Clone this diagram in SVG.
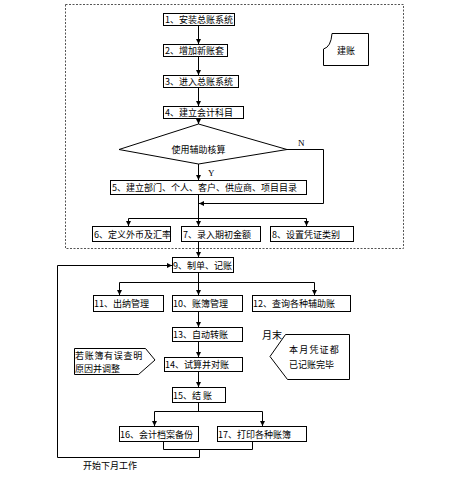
<svg xmlns="http://www.w3.org/2000/svg" width="457" height="483" viewBox="0 0 457 483">
<defs>
<marker id="ah" viewBox="0 0 6 6" refX="6" refY="3" markerWidth="5" markerHeight="5" orient="auto" markerUnits="userSpaceOnUse">
<path d="M0,0 L6,3 L0,6 Z" fill="#000"/>
</marker>
<style>
.b{fill:#fff;stroke:#000;stroke-width:1}
.t{font-family:"Noto Sans CJK SC","Liberation Sans",sans-serif;font-size:9px;fill:#000}
.c{fill:none;stroke:#000;stroke-width:1}
.a{fill:none;stroke:#000;stroke-width:1;marker-end:url(#ah)}
</style>
</defs>
<rect width="457" height="483" fill="#fff"/>
<rect x="65.5" y="4.5" width="338" height="244" fill="none" stroke="#555" stroke-width="1" stroke-dasharray="2,1.5"/>
<g id="connectors">
<line class="a" x1="198.5" y1="25" x2="198.5" y2="44"/>
<line class="a" x1="198.5" y1="57" x2="198.5" y2="75"/>
<line class="a" x1="198.5" y1="87" x2="198.5" y2="106"/>
<line class="a" x1="198.5" y1="118" x2="198.5" y2="124"/>
<line class="a" x1="198.5" y1="164" x2="198.5" y2="180"/>
<polyline class="a" points="287,149.5 323.5,149.5 323.5,203.5 199,203.5"/>
<line class="c" x1="198.5" y1="194" x2="198.5" y2="218.5"/>
<line class="c" x1="128.5" y1="218.5" x2="306.5" y2="218.5"/>
<line class="a" x1="128.5" y1="218.5" x2="128.5" y2="226"/>
<line class="a" x1="198.5" y1="218.5" x2="198.5" y2="226"/>
<line class="a" x1="306.5" y1="218.5" x2="306.5" y2="226"/>
<line class="a" x1="198.5" y1="241" x2="198.5" y2="257"/>
<line class="c" x1="198.5" y1="272" x2="198.5" y2="282.5"/>
<line class="c" x1="119.5" y1="282.5" x2="314.5" y2="282.5"/>
<line class="a" x1="119.5" y1="282.5" x2="119.5" y2="295"/>
<line class="a" x1="198.5" y1="282.5" x2="198.5" y2="295"/>
<line class="a" x1="314.5" y1="282.5" x2="314.5" y2="295"/>
<line class="a" x1="198.5" y1="311" x2="198.5" y2="327"/>
<line class="a" x1="198.5" y1="341" x2="198.5" y2="357"/>
<line class="a" x1="198.5" y1="371" x2="198.5" y2="387"/>
<line class="c" x1="198.5" y1="402" x2="198.5" y2="411.5"/>
<line class="c" x1="154.5" y1="411.5" x2="262.5" y2="411.5"/>
<line class="a" x1="154.5" y1="411.5" x2="154.5" y2="426"/>
<line class="a" x1="262.5" y1="411.5" x2="262.5" y2="426"/>
<polyline class="c" points="163.5,441 163.5,449.5 252.5,449.5 252.5,441"/>
<polyline class="a" points="199.5,449.5 199.5,457.5 57.5,457.5 57.5,265.5 172,265.5"/>
</g>
<g id="n1"><rect class="b" x="163.5" y="13.5" width="71" height="12"/><text class="t" x="165" y="23">1、安装总账系统</text></g>
<g id="n2"><rect class="b" x="163.5" y="44.5" width="64" height="12"/><text class="t" x="165" y="54">2、增加新账套</text></g>
<g id="n3"><rect class="b" x="163.5" y="75.5" width="75" height="12"/><text class="t" x="165" y="85">3、进入总账系统</text></g>
<g id="n4"><rect class="b" x="163.5" y="106.5" width="80" height="12"/><text class="t" x="165" y="116">4、建立会计科目</text></g>
<g id="jz"><path class="b" d="M323.5,49 Q331,47 332,33.5 L368.5,33.5 L368.5,65.5 L323.5,65.5 Z"/><text class="t" x="337" y="54">建账</text></g>
<g id="d"><polygon class="b" points="198.5,124 287,149.5 198.5,164 119,149.5"/><text class="t" x="198.5" y="152.5" text-anchor="middle">使用辅助核算</text></g>
<g id="lblN"><text class="t" x="298" y="146" style="font-family:'Liberation Serif',serif">N</text></g>
<g id="lblY"><text class="t" x="208" y="176" style="font-family:'Liberation Serif',serif">Y</text></g>
<g id="n5"><rect class="b" x="110.5" y="180.5" width="196" height="14"/><text class="t" x="112" y="191">5、建立部门、个人、客户、供应商、项目目录</text></g>
<g id="n6"><rect class="b" x="92.5" y="226.5" width="78" height="15"/><text class="t" x="94" y="237.5">6、定义外币及汇率</text></g>
<g id="n7"><rect class="b" x="181.5" y="226.5" width="79" height="15"/><text class="t" x="183" y="237.5">7、录入期初金额</text></g>
<g id="n8"><rect class="b" x="270.5" y="226.5" width="83" height="15"/><text class="t" x="272" y="237.5">8、设置凭证类别</text></g>
<g id="n9"><rect class="b" x="172.5" y="257.5" width="61" height="15"/><text class="t" x="173" y="268.5">9、制单、记账</text></g>
<g id="n11"><rect class="b" x="93.5" y="295.5" width="70" height="16"/><text class="t" x="94" y="307">11、出纳管理</text></g>
<g id="n10"><rect class="b" x="172.5" y="295.5" width="70" height="16"/><text class="t" x="173" y="307">10、账簿管理</text></g>
<g id="n12"><rect class="b" x="252.5" y="295.5" width="98" height="16"/><text class="t" x="253" y="307">12、查询各种辅助账</text></g>
<g id="n13"><rect class="b" x="172.5" y="327.5" width="70" height="14"/><text class="t" x="173" y="338">13、自动转账</text></g>
<g id="yuemo"><text class="t" x="262" y="339" style="font-size:10px">月末</text></g>
<g id="cbR"><polygon class="b" points="285.5,334.5 349.5,334.5 349.5,379.5 287.5,379.5 270,356.5"/><text class="t" x="289" y="353" letter-spacing="1.2">本月凭证都</text><text class="t" x="289" y="368">已记账完毕</text></g>
<g id="cbL"><polygon class="b" points="74.5,348.5 145.5,348.5 155,360 138.5,374.5 74.5,374.5"/><text class="t" x="75" y="359" letter-spacing="0.7">若账簿有误查明</text><text class="t" x="75" y="372">原因并调整</text></g>
<g id="n14"><rect class="b" x="164.5" y="357.5" width="78" height="14"/><text class="t" x="165" y="368">14、试算并对账</text></g>
<g id="n15"><rect class="b" x="172.5" y="387.5" width="53" height="15"/><text class="t" x="173" y="398.5">15、结  账</text></g>
<g id="n16"><rect class="b" x="119.5" y="426.5" width="79" height="15"/><text class="t" x="120" y="437.5">16、会计档案备份</text></g>
<g id="n17"><rect class="b" x="217.5" y="426.5" width="89" height="15"/><text class="t" x="218" y="437.5">17、打印各种账簿</text></g>
<g id="next"><text class="t" x="83" y="469">开始下月工作</text></g>
</svg>
